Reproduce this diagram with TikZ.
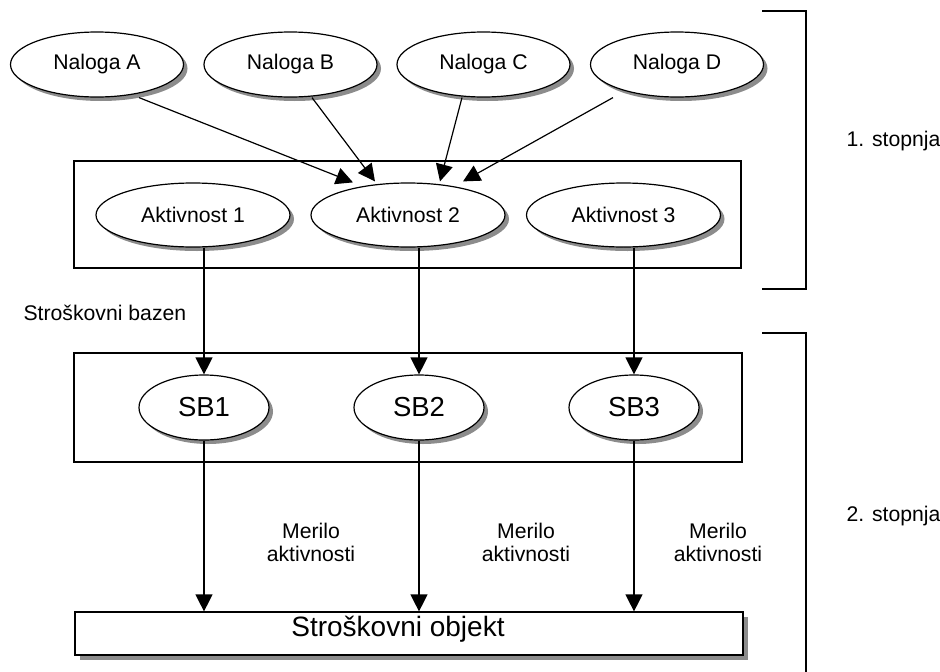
\documentclass[tikz,border=0pt]{standalone}
\usepackage{fontspec}
\setmainfont{Liberation Sans}
\usetikzlibrary{shadows,shapes.geometric,arrows.meta,calc}

\begin{document}
\begin{tikzpicture}[x=1pt,y=-1pt,
  line width=1.2pt,
  lbl/.style={font=\fontsize{21.2}{23}\selectfont,inner sep=0pt},
  castshadow/.style={drop shadow={shadow xshift=4pt,shadow yshift=-4pt,fill=black!45,opacity=1}},
  task/.style={ellipse,draw,fill=white,castshadow,inner sep=0pt,
    minimum width=173pt,minimum height=65pt,font=\fontsize{21.2}{23}\selectfont},
  act/.style={task,minimum width=194pt,minimum height=64pt},
  pool/.style={task,minimum width=130pt,minimum height=65pt,font=\fontsize{27.5}{30}\selectfont},
  groupbox/.style={draw,rectangle,inner sep=0pt},
  flow/.style={-{Triangle[length=17pt,width=17pt]}},
]
\useasboundingbox (0,0) rectangle (940,672);

% group frames
\node[groupbox,minimum width=667pt,minimum height=107pt] (g1) at (407.5,214.5) {};
\node[groupbox,minimum width=668pt,minimum height=109pt] (g2) at (408,407.5) {};

% tasks
\node[task] (na) at (97,64.5) {Naloga A};
\node[task] (nb) at (290.5,64.5) {Naloga B};
\node[task] (nc) at (483.5,64.5) {Naloga C};
\node[task] (nd) at (677,64.5) {Naloga D};

% activities
\node[act] (a1) at (193,215) {Aktivnost 1};
\node[act] (a2) at (408,215) {Aktivnost 2};
\node[act] (a3) at (623.5,215) {Aktivnost 3};

% cost pools
\node[pool] (sb1) at (204,407.5) {SB1};
\node[pool] (sb2) at (419,407.5) {SB2};
\node[pool] (sb3) at (634,407.5) {SB3};

% cost object
\node[groupbox,fill=white,minimum width=668pt,minimum height=43pt,
  drop shadow={shadow xshift=5pt,shadow yshift=-5pt,fill=black!45,opacity=1}] (obj) at (409,633.5) {};
\node[font=\fontsize{28}{32}\selectfont,inner sep=0pt,anchor=base] (objtext) at ($(obj.center)+(-11,3.2)$) {Stroškovni objekt};

% tasks to activity 2
\draw[flow] ($(na.south)+(42,0)$) -- ($(a2.north)+(-55,0)$);
\draw[flow] ($(nb.south)+(21.5,0)$) -- ($(a2.north)+(-33,-1)$);
\draw[flow] ($(nc.south)+(-21.5,0)$) -- ($(a2.north)+(32,-1)$);
\draw[flow] ($(nd.south)+(-64,0)$) -- ($(a2.north)+(55,-1)$);

% activities to cost pools
\draw[flow] (sb1.north |- a1.south) -- (sb1.north);
\draw[flow] (sb2.north |- a2.south) -- (sb2.north);
\draw[flow] (sb3.north |- a3.south) -- (sb3.north);

% cost pools to cost object
\draw[flow] (sb1.south) -- (sb1.south |- obj.north);
\draw[flow] (sb2.south) -- (sb2.south |- obj.north);
\draw[flow] (sb3.south) -- (sb3.south |- obj.north);

% labels
\node[lbl,anchor=base west] (poollbl) at (23,320) {Stroškovni bazen};
\node[lbl,align=center] (m1) at (311,542) {Merilo\\aktivnosti};
\node[lbl,align=center] (m2) at (526,542) {Merilo\\aktivnosti};
\node[lbl,align=center] (m3) at (718,542) {Merilo\\aktivnosti};

% stage brackets
\draw (762,11) -- (806,11) -- (806,289) -- (762,289);
\draw (762,333) -- (806,333) -- (806,674);
\node[lbl,anchor=base west] (st1) at (846,146) {1. stopnja};
\node[lbl,anchor=base west] (st2) at (846,521) {2. stopnja};
\end{tikzpicture}
\end{document}
